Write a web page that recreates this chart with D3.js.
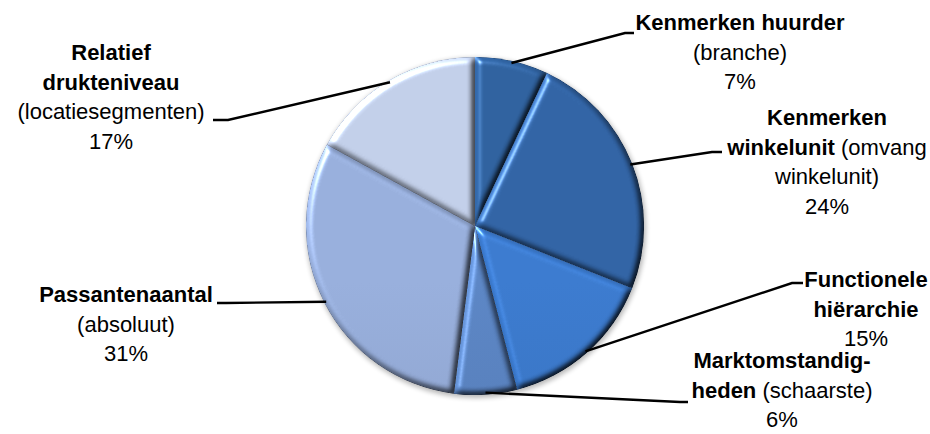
<!DOCTYPE html>
<html>
<head>
<meta charset="utf-8">
<script src="https://cdn.jsdelivr.net/npm/d3@7/dist/d3.min.js"></script>
<style>
  html, body { margin: 0; padding: 0; background: #fff; }
  svg { display: block; }
  text { font-family: "Liberation Sans", Arial, sans-serif; font-size: 22px; fill: #000; }
</style>
</head>
<body>
<svg id="chart" width="930" height="434"></svg>
<script>
// Factors and their share (%)
const categories = [
  "Kenmerken huurder",
  "Kenmerken winkelunit",
  "Functionele hiërarchie",
  "Marktomstandigheden",
  "Passantenaantal",
  "Relatief drukteniveau"
];
const details = ["(branche)", "(omvang winkelunit)", "", "(schaarste)", "(absoluut)", "(locatiesegmenten)"];
const shares = [7, 24, 15, 6, 31, 17];
const colors = ["#2d5c96", "#2e5e9b", "#3874c3", "#567eba", "#8fa5d0", "#b7c3dc"];

// Label lines: *bold* parts, {p} = percentage
const labelLines = [
  ["*Kenmerken huurder*", "(branche)", "{p}"],
  ["*Kenmerken*", "*winkelunit* (omvang", "winkelunit)", "{p}"],
  ["*Functionele*", "*hiërarchie*", "{p}"],
  ["*Marktomstandig-*", "*heden* (schaarste)", "{p}"],
  ["*Passantenaantal*", "(absoluut)", "{p}"],
  ["*Relatief*", "*drukteniveau*", "(locatiesegmenten)", "{p}"]
];

// Label placement: centre x, first baseline, elbow and end of the leader line
const labelLayout = [
  { x: 740, y: 30,  elbow: [625, 33],  end: [634, 33] },
  { x: 827, y: 125, elbow: [712, 152], end: [722, 152] },
  { x: 866, y: 287, elbow: [792, 283], end: [803, 283] },
  { x: 782, y: 368, elbow: [680, 402], end: [688, 402] },
  { x: 126, y: 302, elbow: [226, 303], end: [217, 303] },
  { x: 111, y: 60,  elbow: [228, 120], end: [213, 120] }
];
const lineHeight = 29.6;

const svg = d3.select("#chart");
const cx = 475, cy = 226, R = 169;

const defs = svg.append("defs");

// per-slice vertical shading, darker toward the bottom of the pie
colors.forEach((c, i) => {
  const g = defs.append("linearGradient")
    .attr("id", "grad" + i)
    .attr("gradientUnits", "userSpaceOnUse")
    .attr("x1", 0).attr("x2", 0)
    .attr("y1", cy - R).attr("y2", cy + R);
  g.append("stop").attr("offset", 0).attr("stop-color", d3.color(c).brighter(0.15));
  g.append("stop").attr("offset", 0.45).attr("stop-color", c);
  g.append("stop").attr("offset", 1).attr("stop-color", d3.color(c).darker(0.42));
});

// bevelled edge for each slice
const bevel = defs.append("filter").attr("id", "bevel")
  .attr("color-interpolation-filters", "sRGB")
  .attr("x", "-5%").attr("y", "-5%").attr("width", "110%").attr("height", "110%");
bevel.append("feGaussianBlur").attr("in", "SourceAlpha").attr("stdDeviation", 3).attr("result", "blur");
const diff = bevel.append("feDiffuseLighting").attr("in", "blur").attr("surfaceScale", 4)
  .attr("diffuseConstant", 1).attr("lighting-color", "#fff").attr("result", "diff");
diff.append("feDistantLight").attr("azimuth", 225).attr("elevation", 55);
bevel.append("feComposite").attr("in", "SourceGraphic").attr("in2", "diff")
  .attr("operator", "arithmetic").attr("k1", 1 / Math.sin(55 * Math.PI / 180))
  .attr("k2", 0).attr("k3", 0).attr("k4", 0).attr("result", "shaded");
const spec = bevel.append("feSpecularLighting").attr("in", "blur").attr("surfaceScale", 5)
  .attr("specularConstant", 0.55).attr("specularExponent", 28)
  .attr("lighting-color", "#fff").attr("result", "spec");
spec.append("feDistantLight").attr("azimuth", 225).attr("elevation", 30);
bevel.append("feComposite").attr("in", "spec").attr("in2", "SourceAlpha")
  .attr("operator", "in").attr("result", "specIn");
bevel.append("feComposite").attr("in", "shaded").attr("in2", "specIn")
  .attr("operator", "arithmetic").attr("k1", 0).attr("k2", 1).attr("k3", 1).attr("k4", 0);

// soft shadow behind the pie
const shadow = defs.append("filter").attr("id", "shadow")
  .attr("x", "-10%").attr("y", "-10%").attr("width", "120%").attr("height", "120%");
shadow.append("feGaussianBlur").attr("stdDeviation", 2.5);

const pie = d3.pie().sort(null).value(d => d)(shares);
const arc = d3.arc().innerRadius(0).outerRadius(R);
const anchorArc = d3.arc().innerRadius(R - 2).outerRadius(R - 2);

const gPie = svg.append("g").attr("transform", `translate(${cx},${cy})`);

gPie.append("circle").attr("r", R + 1).attr("cx", 1).attr("cy", 2)
  .attr("fill", "#000").attr("opacity", 0.28).attr("filter", "url(#shadow)");

gPie.selectAll("path.slice")
  .data(pie)
  .join("path")
  .attr("class", "slice")
  .attr("d", arc)
  .attr("fill", (d, i) => `url(#grad${i})`)
  .attr("filter", "url(#bevel)");

// leader lines
const lineGen = d3.line();
svg.append("g").selectAll("path.leader")
  .data(pie)
  .join("path")
  .attr("class", "leader")
  .attr("fill", "none")
  .attr("stroke", "#000")
  .attr("stroke-width", 2.4)
  .attr("d", (d, i) => {
    const a = anchorArc.centroid(d);
    const L = labelLayout[i];
    return lineGen([[a[0] + cx, a[1] + cy], L.elbow, L.end]);
  });

// labels
const gLabels = svg.append("g");
labelLines.forEach((lines, i) => {
  const L = labelLayout[i];
  const t = gLabels.append("text")
    .attr("text-anchor", "middle")
    .attr("x", L.x).attr("y", L.y);
  lines.forEach((line, k) => {
    const str = line.replace("{p}", shares[i] + "%");
    let first = true;
    str.split("*").forEach((p, j) => {
      if (p === "") return;
      const ts = t.append("tspan").text(p)
        .attr("font-weight", j % 2 === 1 ? "bold" : "normal");
      if (first) {
        ts.attr("x", L.x).attr("y", L.y + k * lineHeight);
        first = false;
      }
    });
  });
});
</script>
</body>
</html>
